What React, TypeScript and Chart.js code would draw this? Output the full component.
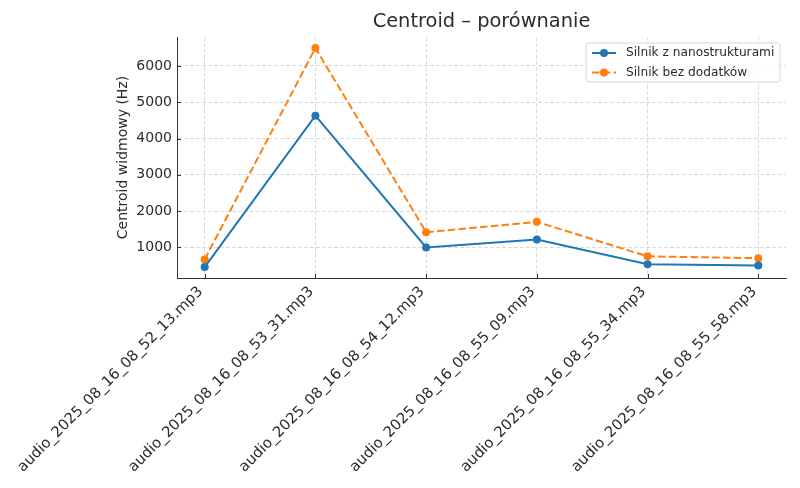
import { useEffect, useRef } from "react";
import { Chart, registerables } from "chart.js";

Chart.register(...registerables);

const fileNames = [
  "audio_2025_08_16_08_52_13.mp3",
  "audio_2025_08_16_08_53_31.mp3",
  "audio_2025_08_16_08_54_12.mp3",
  "audio_2025_08_16_08_55_09.mp3",
  "audio_2025_08_16_08_55_34.mp3",
  "audio_2025_08_16_08_55_58.mp3",
];
const withNano = [460, 4630, 1000, 1220, 535, 500];
const withoutAdditives = [670, 6490, 1420, 1705, 755, 705];
const yTicks = [1000, 2000, 3000, 4000, 5000, 6000];

const seriesNames = ["Silnik z nanostrukturami", "Silnik bez dodatków"];
const titleText = "Centroid – porównanie";
const yLabel = "Centroid widmowy (Hz)";

const BLUE = "#1f77b4";
const ORANGE = "#ff7f0e";
const FONT = "'DejaVu Sans', sans-serif";
const TEXT = "#2b2b2b";

const overlay = {
  id: "overlay",
  afterDraw(chart: any) {
    const { ctx, chartArea } = chart;
    const { left, right, top, bottom } = chartArea;
    ctx.save();

    // inward ticks
    ctx.strokeStyle = "#333";
    ctx.lineWidth = 1;
    const xs = chart.scales.x;
    const ys = chart.scales.y;
    fileNames.forEach((_, i) => {
      const px = Math.round(xs.getPixelForValue(i)) + 0.5;
      ctx.beginPath();
      ctx.moveTo(px, bottom);
      ctx.lineTo(px, bottom - 4);
      ctx.stroke();
    });
    yTicks.forEach((v) => {
      const py = Math.round(ys.getPixelForValue(v)) + 0.5;
      ctx.beginPath();
      ctx.moveTo(left, py);
      ctx.lineTo(left + 4, py);
      ctx.stroke();
    });

    // title
    ctx.fillStyle = TEXT;
    ctx.textAlign = "center";
    ctx.textBaseline = "middle";
    ctx.font = `19.4px ${FONT}`;
    ctx.fillText(titleText, (left + right) / 2, 22);

    // y axis label
    ctx.save();
    ctx.translate(123, (top + bottom) / 2);
    ctx.rotate(-Math.PI / 2);
    ctx.font = `14px ${FONT}`;
    ctx.fillText(yLabel, 0, 0);
    ctx.restore();

    // legend
    const bx = 586, by = 43, bw = 194, bh = 39, r = 3;
    ctx.beginPath();
    ctx.moveTo(bx + r, by);
    ctx.arcTo(bx + bw, by, bx + bw, by + bh, r);
    ctx.arcTo(bx + bw, by + bh, bx, by + bh, r);
    ctx.arcTo(bx, by + bh, bx, by, r);
    ctx.arcTo(bx, by, bx + bw, by, r);
    ctx.closePath();
    ctx.fillStyle = "rgba(255,255,255,0.85)";
    ctx.fill();
    ctx.strokeStyle = "#d6d6d6";
    ctx.lineWidth = 1;
    ctx.stroke();

    chart.data.datasets.forEach((ds: any, i: number) => {
      const ly = 53 + i * 19.5;
      ctx.strokeStyle = ds.borderColor;
      ctx.lineWidth = 2;
      ctx.setLineDash(ds.borderDash || []);
      ctx.beginPath();
      ctx.moveTo(592, ly);
      ctx.lineTo(616, ly);
      ctx.stroke();
      ctx.setLineDash([]);
      ctx.fillStyle = ds.borderColor;
      ctx.beginPath();
      ctx.arc(604, ly, 4, 0, Math.PI * 2);
      ctx.fill();
      ctx.fillStyle = TEXT;
      ctx.textAlign = "left";
      ctx.font = `12.2px ${FONT}`;
      ctx.fillText(ds.label, 626, ly);
    });

    ctx.restore();
  },
};

export default function App() {
  const canvasRef = useRef<HTMLCanvasElement | null>(null);
  const chartRef = useRef<Chart | null>(null);

  useEffect(() => {
    document.body.style.margin = "0";
    if (!canvasRef.current) return;
    if (chartRef.current) chartRef.current.destroy();

    const gridColor = "#d2d2d2";

    chartRef.current = new Chart(canvasRef.current, {
      type: "line",
      data: {
        datasets: [
          {
            label: seriesNames[0],
            data: withNano.map((v, i) => ({ x: i, y: v })),
            borderColor: BLUE,
            backgroundColor: BLUE,
            borderWidth: 2,
            pointRadius: 4,
            pointBorderWidth: 0,
            tension: 0,
          },
          {
            label: seriesNames[1],
            data: withoutAdditives.map((v, i) => ({ x: i, y: v })),
            borderColor: ORANGE,
            backgroundColor: ORANGE,
            borderWidth: 2,
            borderDash: [7.5, 3.3],
            pointRadius: 4,
            pointBorderWidth: 0,
            tension: 0,
          },
        ],
      },
      options: {
        responsive: true,
        maintainAspectRatio: false,
        animation: false,
        layout: { padding: { top: 37, right: 14, left: 0, bottom: 0 } },
        plugins: {
          legend: { display: false },
          title: { display: false },
          tooltip: { enabled: false },
        },
        scales: {
          x: {
            type: "linear",
            min: -0.25,
            max: 5.25,
            afterBuildTicks: (scale: any) => {
              scale.ticks = fileNames.map((_, i) => ({ value: i }));
            },
            afterFit: (scale: any) => {
              scale.height = 210;
            },
            ticks: {
              autoSkip: false,
              minRotation: 45,
              maxRotation: 45,
              padding: 5,
              labelOffset: -4,
              color: TEXT,
              font: { family: FONT, size: 14.8 },
              callback: (v: any) => fileNames[v] ?? "",
            },
            grid: {
              color: gridColor,
              lineWidth: 0.8,
              drawTicks: false,
            },
            border: { display: true, color: "#333", width: 1, dash: [4, 2] },
          },
          y: {
            min: 159,
            max: 6795,
            afterBuildTicks: (scale: any) => {
              scale.ticks = yTicks.map((v) => ({ value: v }));
            },
            afterFit: (scale: any) => {
              scale.width = 177;
            },
            ticks: {
              padding: 5,
              color: TEXT,
              font: { family: FONT, size: 14 },
              callback: (v: any) => String(v),
            },
            grid: {
              color: gridColor,
              lineWidth: 0.8,
              drawTicks: false,
            },
            border: { display: true, color: "#333", width: 1, dash: [4, 2] },
          },
        },
      },
      plugins: [overlay],
    } as any);

    return () => {
      if (chartRef.current) {
        chartRef.current.destroy();
        chartRef.current = null;
      }
    };
  }, []);

  return (
    <div style={{ position: "relative", width: "800px", height: "488px" }}>
      <canvas ref={canvasRef}></canvas>
    </div>
  );
}
